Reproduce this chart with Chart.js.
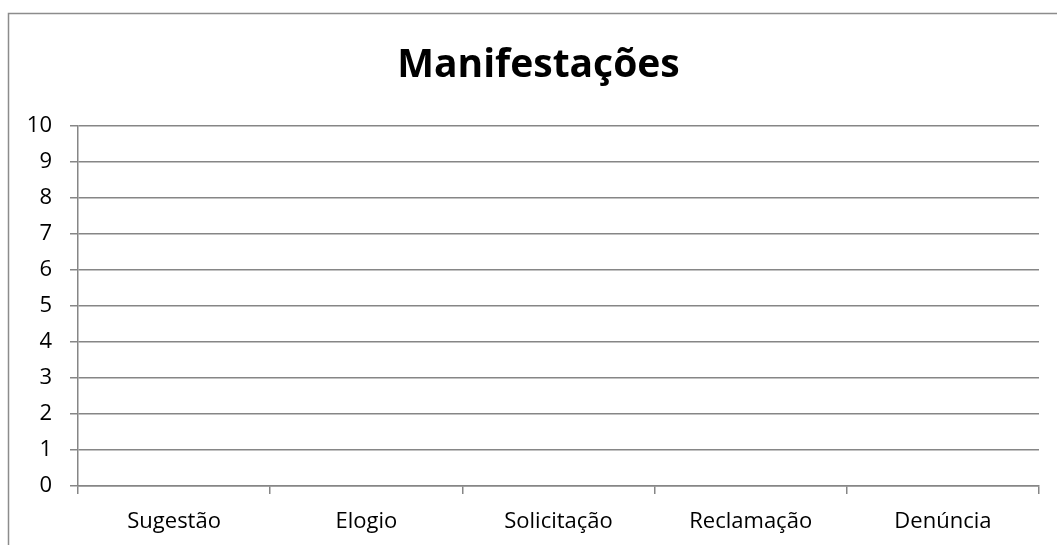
<!DOCTYPE html>
<html>
<head>
<meta charset="utf-8">
<script src="https://cdn.jsdelivr.net/npm/chart.js@4.4.0/dist/chart.umd.min.js"></script>
<style>
  html, body { margin: 0; padding: 0; background: #fff; overflow: hidden; }
  #wrap { position: relative; width: 1057px; height: 545px; }
</style>
</head>
<body>
<div id="wrap"><canvas id="c" width="1057" height="545"></canvas></div>
<script>
const categories = ['Sugestão', 'Elogio', 'Solicitação', 'Reclamação', 'Denúncia'];
const values = [0, 0, 0, 0, 0];
const yTicks = [0, 1, 2, 3, 4, 5, 6, 7, 8, 9, 10];
const chartTitle = 'Manifestações';

const FONT = "'Open Sans', 'Liberation Sans', sans-serif";
const GRID = '#868686';

const borderPlugin = {
  id: 'outerBorder',
  afterLayout(chart) {
    // center the title over the outer frame rather than the padded box
    const t = chart.titleBlock;
    if (t) { t.left += 14; t.right += 14; }
  },
  afterDraw(chart) {
    const ctx = chart.ctx;
    ctx.save();
    ctx.strokeStyle = '#8c8c8c';
    ctx.lineWidth = 1.5;
    ctx.strokeRect(8.5, 13.5, 1200, 700);
    ctx.restore();
  }
};

new Chart(document.getElementById('c'), {
  type: 'bar',
  data: {
    labels: categories,
    datasets: [{ label: 'Manifestações', data: values, backgroundColor: '#4f81bd' }]
  },
  options: {
    responsive: false,
    animation: false,
    layout: { padding: { left: 10, right: 18, top: 0, bottom: 0 } },
    plugins: {
      legend: { display: false },
      tooltip: { enabled: false },
      title: {
        display: true,
        text: chartTitle,
        color: '#000',
        font: { family: FONT, size: 39, weight: 'bold', lineHeight: 1.2 },
        padding: { top: 42, bottom: 37 }
      }
    },
    scales: {
      x: {
        offset: true,
        grid: { offset: true, drawOnChartArea: false, drawTicks: true, tickLength: 8, color: GRID, lineWidth: 1.5 },
        border: { display: true, color: GRID, width: 1.5 },
        ticks: { color: '#000', font: { family: FONT, size: 22 }, padding: 15 },
        afterFit(s) { s.height = 59; }
      },
      y: {
        min: 0, max: 10,
        afterBuildTicks(s) { s.ticks = yTicks.map(v => ({ value: v })); },
        grid: { color: GRID, lineWidth: 1.5, tickLength: 8, drawTicks: true },
        border: { display: true, color: GRID, width: 1.5 },
        ticks: { color: '#000', font: { family: FONT, size: 22 }, padding: 18 },
        afterFit(s) { s.width = 68; }
      }
    }
  },
  plugins: [borderPlugin]
});
</script>
</body>
</html>
